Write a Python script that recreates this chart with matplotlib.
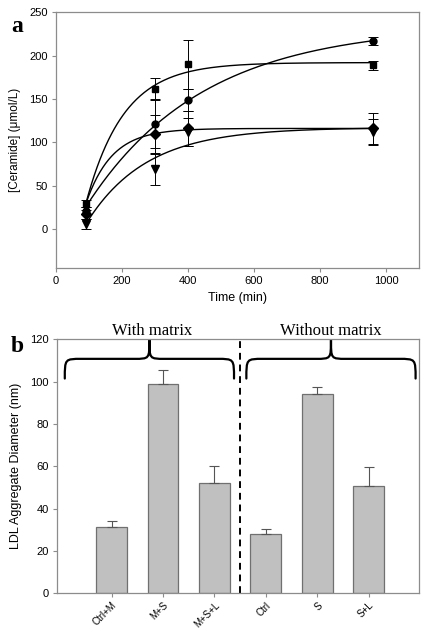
import numpy as np
import matplotlib
matplotlib.use("Agg")
import matplotlib.pyplot as plt
from matplotlib.path import Path
from matplotlib.patches import PathPatch

# ---------------- data ----------------
time_min = [90, 300, 400, 960]
circle_vals = [21, 121, 149, 217]
circle_err = [4, 28, 13, 5]
square_vals = [29, 162, 190, 189]
square_err = [4, 12, 28, 5]
diamond_vals = [17, 110, 116, 116]
diamond_err = [5, 22, 20, 18]
triangle_vals = [6, 69, 112, 112]
triangle_err = [6, 18, 16, 15]

# fitted rise-to-max curves:
# value at first time point, plateau, rate (1/min)
curve_start = [25, 28, 28, 5]
curve_plateau = [235, 192, 116, 117]
curve_rate = [0.00284, 0.00877, 0.0128, 0.00554]

bar_labels = ["Ctrl+M", "M+S", "M+S+L", "Ctrl", "S", "S+L"]
bar_vals = [31.5, 99, 52.3, 28.2, 94, 50.5]
bar_err = [2.6, 6.3, 7.8, 2.0, 3.4, 9.0]
group_labels = ["With matrix", "Without matrix"]

# ---------------- helpers ----------------
def brace(ax, x0, x1, ybot, ymid, ytop):
    xm = (x0 + x1) / 2
    w = (x1 - x0)
    r = 0.1 * w
    verts = [
        (x0, ybot),
        (x0, ymid), (x0, ymid), (x0 + r, ymid),
        (xm - r * 0.9, ymid),
        (xm, ymid), (xm, ymid), (xm, ytop),
        (xm, ymid), (xm, ymid), (xm + r * 0.9, ymid),
        (x1 - r, ymid),
        (x1, ymid), (x1, ymid), (x1, ybot),
    ]
    codes = [Path.MOVETO,
             Path.CURVE4, Path.CURVE4, Path.CURVE4,
             Path.LINETO,
             Path.CURVE4, Path.CURVE4, Path.CURVE4,
             Path.CURVE4, Path.CURVE4, Path.CURVE4,
             Path.LINETO,
             Path.CURVE4, Path.CURVE4, Path.CURVE4]
    p = PathPatch(Path(verts, codes), fill=False, lw=1.6, color="black",
                  clip_on=False, capstyle="round")
    ax.add_patch(p)

# ---------------- figure ----------------
fig = plt.figure(figsize=(4.26, 6.32), dpi=100)
sans = ["Liberation Sans", "DejaVu Sans"]
serif = ["Liberation Serif", "DejaVu Serif"]
spine_c = "#8c8c8c"

# ----- panel a -----
ax1 = fig.add_axes([0.131, 0.576, 0.853, 0.4045])
t0 = time_min[0]
tt = np.linspace(t0, time_min[-1], 300)
series = [
    (circle_vals, circle_err, "o", 5),
    (square_vals, square_err, "s", 5),
    (diamond_vals, diamond_err, "D", 5),
    (triangle_vals, triangle_err, "v", 5.5),
]
for i, (vals, err, mk, ms) in enumerate(series):
    P = curve_plateau[i]
    curve = P - (P - curve_start[i]) * np.exp(-curve_rate[i] * (tt - t0))
    ax1.plot(tt, curve, color="black", lw=1.0, zorder=2)
    ax1.errorbar(time_min, vals, yerr=err, fmt=mk, color="black", ms=ms,
                 ecolor="black", elinewidth=0.7, capsize=3.5, capthick=0.7,
                 zorder=3)
ax1.set_xlim(0, 1100)
ax1.set_ylim(-45, 250)
ax1.set_xticks([0, 200, 400, 600, 800, 1000])
ax1.set_yticks([0, 50, 100, 150, 200, 250])
ax1.set_xlabel("Time (min)", fontsize=9, family=sans, labelpad=4)
ax1.set_ylabel("[Ceramide] (\u03bcmol/L)", fontsize=8.5, family=sans, labelpad=6)
for lab in ax1.get_xticklabels() + ax1.get_yticklabels():
    lab.set_family(sans)
    lab.set_fontsize(8)
ax1.tick_params(direction="out", length=3, color=spine_c, width=0.8, pad=3)
for s in ax1.spines.values():
    s.set_color(spine_c)
    s.set_linewidth(0.9)
fig.text(0.04, 0.958, "a", fontsize=17, fontweight="bold", family=serif,
         ha="center", va="center")

# ----- panel b -----
ax2 = fig.add_axes([0.134, 0.0612, 0.85, 0.4018])
xpos = np.arange(len(bar_labels))
ax2.bar(xpos, bar_vals, width=0.6, color="#c0c0c0", edgecolor="#707070",
        linewidth=0.9, zorder=2)
ax2.errorbar(xpos, bar_vals, yerr=[np.zeros(len(bar_err)), bar_err], fmt="none",
             ecolor="#555555", elinewidth=0.8, capsize=3.5, capthick=0.8, zorder=3)
ax2.axvline(2.5, color="black", lw=1.4, ls=(0, (3.5, 2.5)), zorder=1)
ax2.set_xlim(-1.06, 5.98)
ax2.set_ylim(0, 120)
ax2.set_yticks([0, 20, 40, 60, 80, 100, 120])
ax2.set_xticks(xpos)
ax2.set_xticklabels(bar_labels, rotation=45, ha="right", rotation_mode="anchor",
                    fontsize=7, family=sans)
for lab in ax2.get_yticklabels():
    lab.set_family(sans)
    lab.set_fontsize(8)
ax2.set_ylabel("LDL Aggregate Diameter (nm)", fontsize=9, family=sans, labelpad=6)
ax2.tick_params(direction="out", length=3, color=spine_c, width=0.8, pad=3)
ax2.tick_params(axis="x", pad=2)
for s in ax2.spines.values():
    s.set_color(spine_c)
    s.set_linewidth(0.9)

brace(ax2, -0.91, 2.38, 101.5, 110.8, 119.7)
brace(ax2, 2.62, 5.91, 101.5, 110.8, 119.7)
ax2.text(0.78, 120.3, group_labels[0], ha="center", va="bottom", fontsize=12,
         family=serif, clip_on=False)
ax2.text(4.27, 120.3, group_labels[1], ha="center", va="bottom", fontsize=12,
         family=serif, clip_on=False)
fig.text(0.04, 0.452, "b", fontsize=17, fontweight="bold", family=serif,
         ha="center", va="center")

fig.savefig("out.png", dpi=100)
